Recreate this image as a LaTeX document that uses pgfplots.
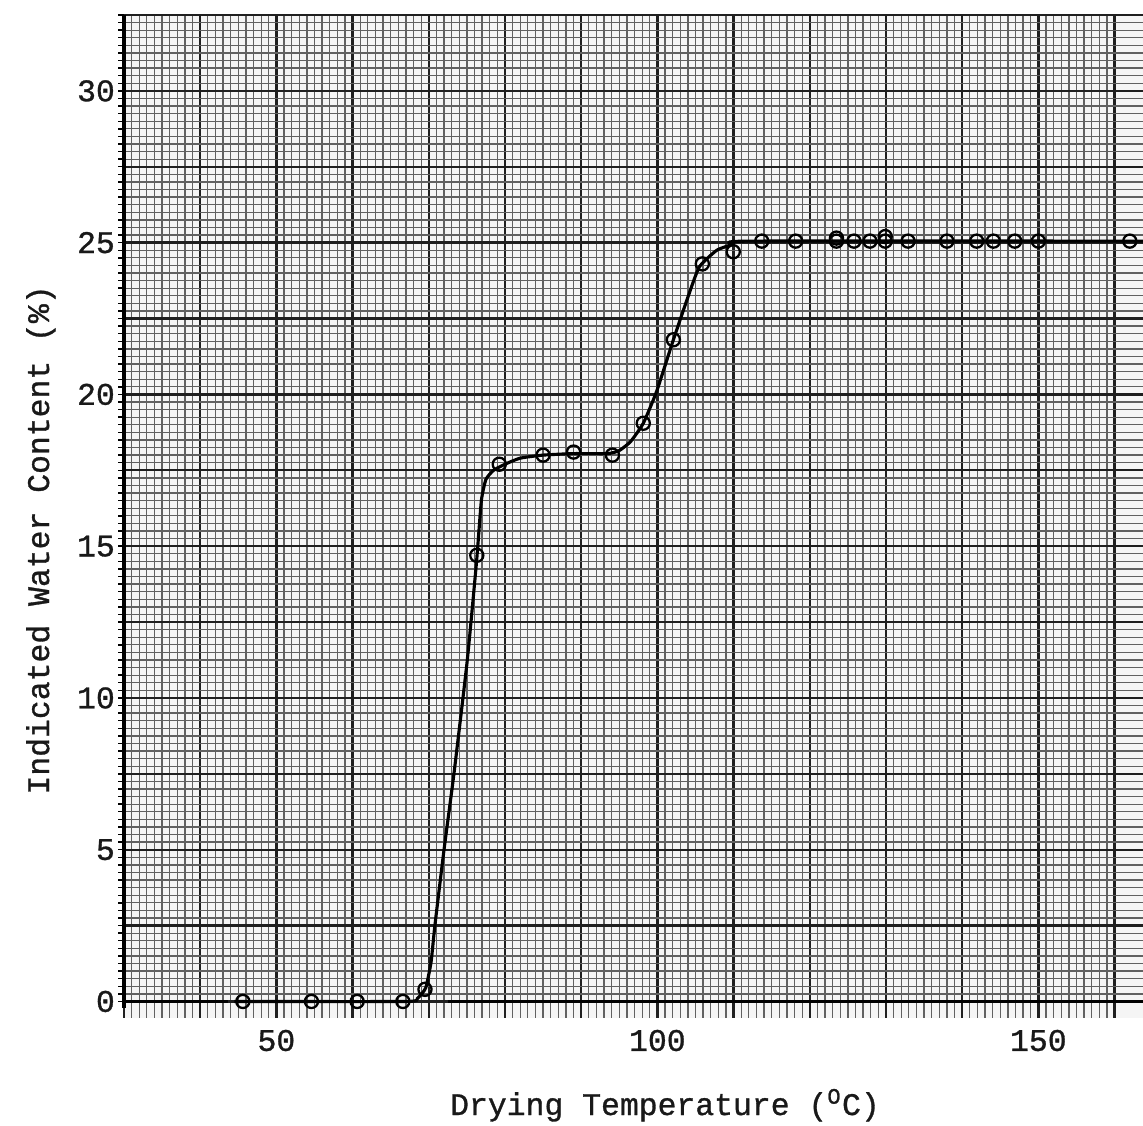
\documentclass[border=0pt]{standalone}
\usepackage{fontspec}
\setmainfont{Liberation Mono}[FakeBold=1.0]
\usepackage{pgfplots}
\pgfplotsset{compat=1.18}
\begin{document}
\fontsize{11pt}{13pt}\selectfont
\begin{tikzpicture}
\begin{axis}[
  scale only axis,
  width=356.65pt, height=351pt,
  xmin=30, xmax=163.73, ymin=-0.54, ymax=32.5,
  clip=false,
  axis line style={draw=none},
  axis background/.style={fill=black!4},
  xtick={30,40,...,160},
  xticklabels={,,50,,,,,100,,,,,150,},
  ytick={0,2.5,...,32.5},
  yticklabels={0,,5,,10,,15,,20,,25,,30,},
  minor x tick num=9, minor y tick num=9,
  grid=both,
  minor grid style={black!62, line width=0.45pt},
  major grid style={black!88, line width=0.8pt},
  tick align=outside,
  xtick style={draw=none},
  ytick style={black, line width=0.5pt},
  major tick length=2pt, minor tick length=2pt,
  ticklabel style={font=\fontsize{11pt}{13pt}\selectfont, text=black!90},
  yticklabel style={inner sep=1pt},
  xticklabel style={inner sep=2pt},
  label style={font=\fontsize{11pt}{13pt}\selectfont, text=black!90},
  xlabel={Drying Temperature (\textsuperscript{O}C)},
  ylabel={Indicated Water Content (\%)},
  xlabel style={at={(axis description cs:0.5309,-0.0969)}, anchor=base},
  ylabel style={at={(axis description cs:-0.0736,0.4766)}, anchor=base},
]
% axes drawn by hand on the paper
\addplot[black, line width=1.3pt, forget plot] coordinates {(30,-0.2) (30,32.5)};
\addplot[black, line width=1.1pt, forget plot] coordinates {(30,0) (43.6,0)};
\addplot[black, line width=1.1pt, forget plot] coordinates {(72.5,0) (163.73,0)};
% fitted curve
\addplot[black, line width=1.1pt, smooth, tension=0.3, no marks] coordinates {
(44.5,0) (67,0) (68.5,0.1) (69.6,0.45) (70.3,1.3) (70.8,2.5) (72.0,5.0) (73.3,7.5)
(75.05,11.24) (76.27,14.5) (76.9,16.5) (77.5,17.2) (78.5,17.5) (80,17.7) (82,17.9)
(85,18.0) (89,18.05) (93.5,18.05) (95,18.15) (96.5,18.45) (98.15,19.05) (99.9,20.1)
(102.1,21.8) (104,23.2) (105.5,24.2) (107.8,24.75) (110,24.95) (112,25.05) (163.73,25.05)
};
% measured points
\addplot[only marks, mark=o, mark size=2.3pt, black, line width=0.8pt] coordinates {
(45.6,0) (54.6,0) (60.6,0) (66.6,0) (69.5,0.4) (76.3,14.7) (79.25,17.7) (85.0,18.0)
(89.0,18.1) (94.1,18.0) (98.15,19.05) (102.1,21.8) (105.9,24.3) (109.96,24.7)
(113.7,25.05) (118.15,25.05) (123.5,25.05) (123.5,25.15) (125.8,25.05) (127.9,25.05)
(129.9,25.05) (129.9,25.2) (132.9,25.05) (138.0,25.05) (141.9,25.05) (144.1,25.05)
(146.9,25.05) (150.0,25.05) (162.0,25.05)
};
\end{axis}
\pgfresetboundingbox
\path[use as bounding box] (-43.4pt,-37.8pt) rectangle (356.65pt,356.25pt);
\end{tikzpicture}
\end{document}
